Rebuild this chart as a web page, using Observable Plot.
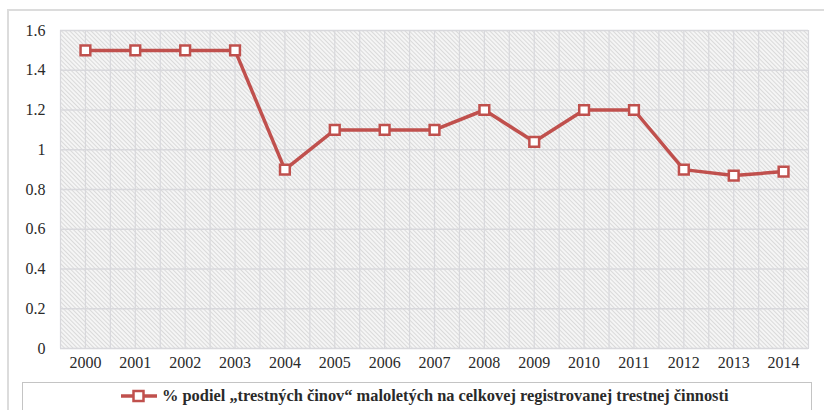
<!DOCTYPE html>
<html>
<head>
<meta charset="utf-8">
<script src="https://cdn.jsdelivr.net/npm/d3@7"></script>
<script src="https://cdn.jsdelivr.net/npm/@observablehq/plot@0.6"></script>
<style>
  body { margin: 0; background: #fff; width: 824px; height: 410px; overflow: hidden; position: relative; font-family: "Liberation Serif", "Times New Roman", serif; }
  #frame { position: absolute; left: 7px; top: 9px; width: 830px; height: 420px; border: 2px solid #dcdcdc; box-sizing: border-box; }
  #chart { position: absolute; left: 0; top: 0; }
  #legend { position: absolute; left: 22px; top: 382px; width: 790px; height: 40px; border: 1px solid #c4c4c4; box-sizing: border-box; background: #fff;
            font-weight: bold; font-size: 16.4px; color: #2a2a2a; }
  #legend .item { position: absolute; left: 96px; top: 3px; display: flex; align-items: center; white-space: nowrap; }
</style>
</head>
<body>
<div id="frame"></div>
<div id="chart"></div>
<div id="legend"><div class="item"><svg width="40" height="16" style="margin-right:3px"><line x1="2" y1="8" x2="38" y2="8" stroke="#C0504D" stroke-width="3.5"/><rect x="14.5" y="3" width="10" height="10" fill="#fff" stroke="#C0504D" stroke-width="2.5"/></svg><span id="ltext"></span></div></div>
<script>
const years = [2000, 2001, 2002, 2003, 2004, 2005, 2006, 2007, 2008, 2009, 2010, 2011, 2012, 2013, 2014];
const values = [1.5, 1.5, 1.5, 1.5, 0.9, 1.1, 1.1, 1.1, 1.2, 1.04, 1.2, 1.2, 0.9, 0.87, 0.89];
const yTicks = [0, 0.2, 0.4, 0.6, 0.8, 1, 1.2, 1.4, 1.6];
const seriesName = "% podiel „trestných činov“ maloletých na celkovej registrovanej trestnej činnosti";

const data = years.map((y, i) => ({year: y, value: values[i]}));
const xGrid = [];
for (const y of years) { xGrid.push(y - 0.5, y); }
xGrid.push(years[years.length - 1] + 0.5);

const red = "#C0504D";
const plot = Plot.plot({
  width: 824,
  height: 378,
  marginTop: 30,
  marginBottom: 30,
  marginLeft: 60,
  marginRight: 16,
  style: {fontFamily: "'Liberation Serif', 'Times New Roman', serif", fontSize: "16px", color: "#2a2a2a", background: "transparent"},
  x: {type: "linear", domain: [1999.5, 2014.5], label: null},
  y: {domain: [0, 1.6], label: null},
  marks: [
    Plot.frame({fill: "url(#hatch)", stroke: null}),
    Plot.ruleX(xGrid, {stroke: "#d8d8dc", strokeWidth: 1.2}),
    Plot.ruleY(yTicks, {stroke: "#d8d8dc", strokeWidth: 1.3}),
    Plot.frame({stroke: "#d8d8dc", strokeWidth: 1}),
    Plot.axisX({ticks: years, tickFormat: d => String(d), tickSize: 0, tickPadding: 8, label: null}),
    Plot.axisY({ticks: yTicks, tickFormat: d => String(+d.toFixed(2)), tickSize: 0, tickPadding: 15, label: null}),
    Plot.line(data, {x: "year", y: "value", stroke: red, strokeWidth: 3.5}),
    Plot.dot(data, {x: "year", y: "value", symbol: "square", r: 5.5, fill: "#fff", stroke: red, strokeWidth: 2.5})
  ]
});

const ns = "http://www.w3.org/2000/svg";
const defs = document.createElementNS(ns, "defs");
defs.innerHTML = `<pattern id="hatch" width="3" height="3" patternUnits="userSpaceOnUse" patternTransform="rotate(-45)">
  <rect width="3" height="3" fill="#f5f5f5"/>
  <rect width="1" height="3" fill="#dadada"/>
</pattern>`;
plot.insertBefore(defs, plot.firstChild);
document.getElementById("chart").appendChild(plot);
document.getElementById("ltext").textContent = seriesName;
</script>
</body>
</html>
